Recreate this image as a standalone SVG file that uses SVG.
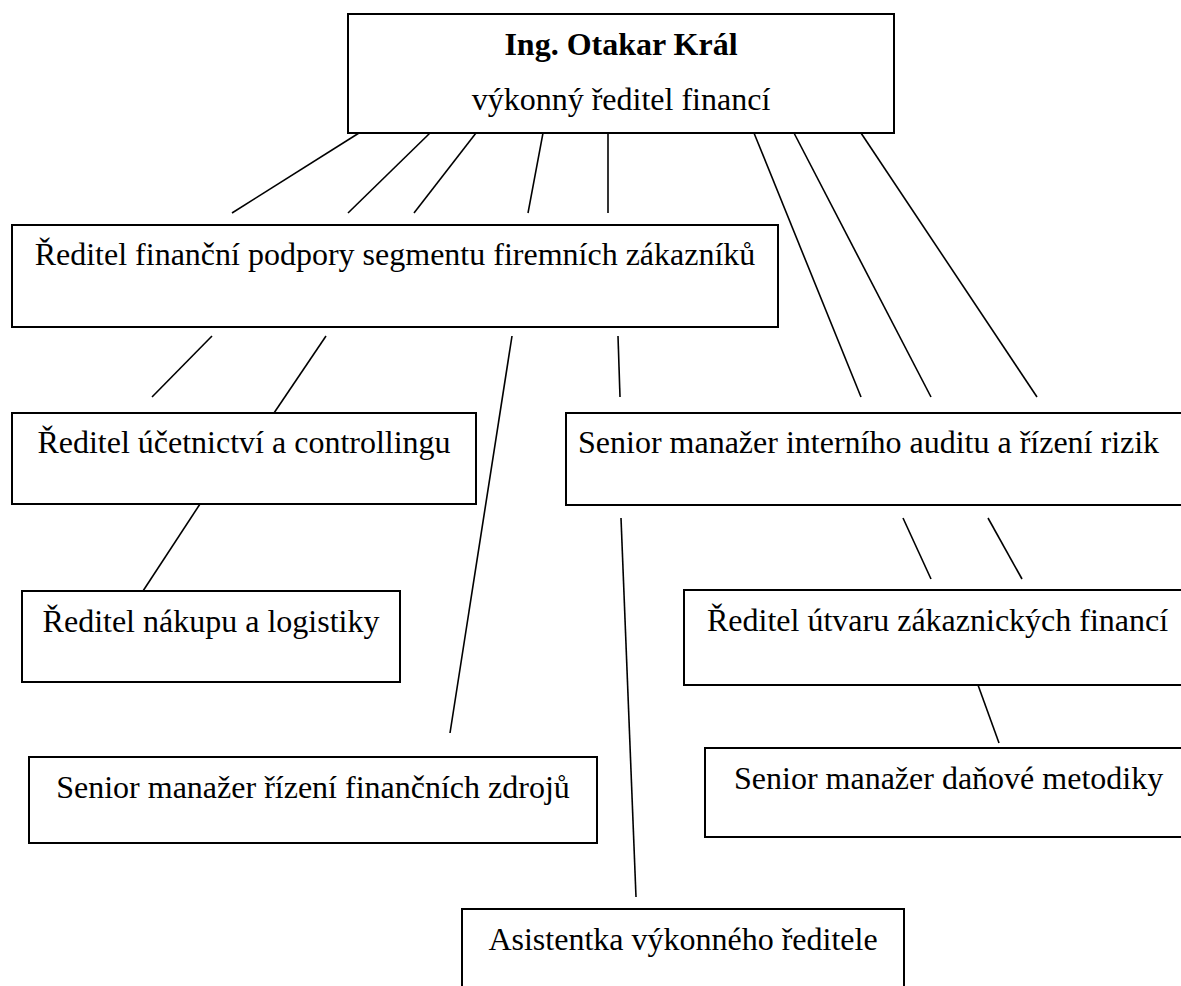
<svg xmlns="http://www.w3.org/2000/svg" width="1181" height="986" viewBox="0 0 1181 986">
  <style>
    .box { fill: #ffffff; stroke: #000000; stroke-width: 2; }
    .lbl { font-family: "Liberation Serif", "Times New Roman", serif; font-size: 32px; fill: #000000; }
    .mid { text-anchor: middle; }
    .bold { font-weight: bold; }
    .conn line { stroke: #000000; stroke-width: 1.6; stroke-linecap: butt; }
  </style>
  <rect width="1181" height="986" fill="#ffffff"/>

  <!-- connectors -->
  <g id="connectors" class="conn">
    <line x1="359" y1="133" x2="232" y2="213"/>
    <line x1="430" y1="133" x2="348" y2="213"/>
    <line x1="476" y1="133" x2="414" y2="213"/>
    <line x1="543" y1="133" x2="528" y2="213"/>
    <line x1="608" y1="133" x2="608" y2="213"/>
    <line x1="754" y1="133" x2="861" y2="397"/>
    <line x1="794" y1="133" x2="931" y2="397"/>
    <line x1="861" y1="133" x2="1037" y2="397"/>
    <line x1="212" y1="336" x2="152" y2="397"/>
    <line x1="326" y1="336" x2="274" y2="413"/>
    <line x1="512" y1="336" x2="450" y2="733"/>
    <line x1="618" y1="336" x2="620" y2="397"/>
    <line x1="200" y1="504" x2="143" y2="591"/>
    <line x1="621" y1="518" x2="636" y2="897"/>
    <line x1="903" y1="518" x2="931" y2="579"/>
    <line x1="988" y1="518" x2="1022" y2="579"/>
    <line x1="978" y1="685" x2="999" y2="743"/>
  </g>

  <!-- nodes -->
  <g id="cfo">
    <rect class="box" x="348" y="14" width="546" height="119"/>
    <text class="lbl mid bold" x="621" y="55">Ing. Otakar Král</text>
    <text class="lbl mid" x="621" y="110">výkonný ředitel financí</text>
  </g>
  <g id="corporate-support">
    <rect class="box" x="12" y="225" width="766" height="102"/>
    <text class="lbl mid" x="395" y="265">Ředitel finanční podpory segmentu firemních zákazníků</text>
  </g>
  <g id="accounting">
    <rect class="box" x="12" y="413" width="464" height="91"/>
    <text class="lbl mid" x="244" y="453">Ředitel účetnictví a controllingu</text>
  </g>
  <g id="audit-risk">
    <rect class="box" x="566" y="413" width="630" height="92"/>
    <text class="lbl" x="578" y="453">Senior manažer interního auditu a řízení rizik</text>
  </g>
  <g id="purchasing">
    <rect class="box" x="22" y="591" width="378" height="91"/>
    <text class="lbl mid" x="211" y="632">Ředitel nákupu a logistiky</text>
  </g>
  <g id="customer-finance">
    <rect class="box" x="684" y="590" width="512" height="95"/>
    <text class="lbl" x="707" y="631">Ředitel útvaru zákaznických financí</text>
  </g>
  <g id="funding">
    <rect class="box" x="29" y="757" width="568" height="86"/>
    <text class="lbl mid" x="313" y="798">Senior manažer řízení finančních zdrojů</text>
  </g>
  <g id="tax">
    <rect class="box" x="705" y="748" width="491" height="89"/>
    <text class="lbl" x="734" y="789">Senior manažer daňové metodiky</text>
  </g>
  <g id="assistant">
    <rect class="box" x="462" y="909" width="442" height="90"/>
    <text class="lbl mid" x="683" y="950">Asistentka výkonného ředitele</text>
  </g>
</svg>
